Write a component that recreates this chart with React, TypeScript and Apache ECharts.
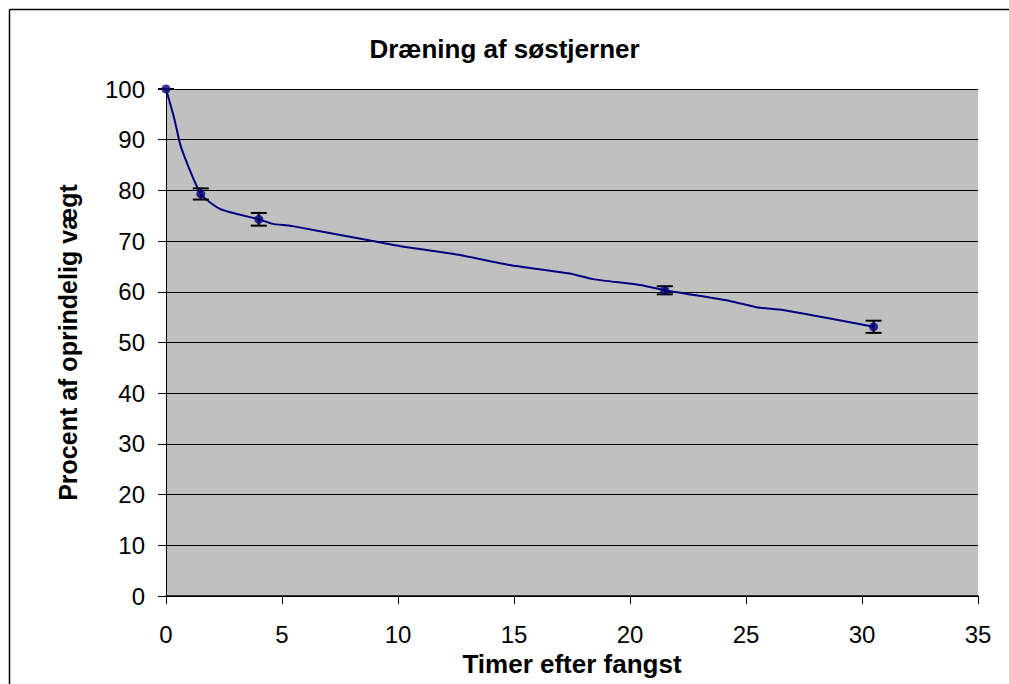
import React, { useEffect, useRef } from "react";
import * as echarts from "echarts";

// Measured points
const times = [0, 1.5, 4, 21.5, 30.5];
const percent = [100, 79.3, 74.3, 60.3, 53.1];
const errors = [0, 1.1, 1.25, 0.8, 1.2];

// Connecting curve
const curveX = [0, 0.35, 0.65, 1.5, 2.3, 3.1, 4, 4.6, 5.4, 8.8, 10.1, 12.6, 14.8, 17.4, 18.4, 20.5, 21.5, 24.3, 25.5, 26.6, 30.5];
const curveY = [100, 94.3, 88.5, 79.3, 76.4, 75.3, 74.3, 73.4, 73.0, 70.1, 69.0, 67.3, 65.3, 63.6, 62.5, 61.3, 60.3, 58.2, 56.9, 56.4, 53.1];

const xTicks = { min: 0, max: 35, interval: 5 };
const yTicks = { min: 0, max: 100, interval: 10 };

const FONT = "'Liberation Sans', Arial, sans-serif";

export default function App() {
  const ref = useRef<HTMLDivElement>(null);
  useEffect(() => {
    if (!ref.current) return;
    const chart = echarts.init(ref.current, undefined, { renderer: "svg" });
    const curve = curveX.map((x, i) => [x, curveY[i]]);
    const pts = times.map((t, i) => [t, percent[i]]);
    const errs = times.map((t, i) => [t, percent[i], errors[i]]);
    chart.setOption({
      animation: false,
      backgroundColor: "#ffffff",
      textStyle: { fontFamily: FONT },
      title: {
        text: "Dræning af søstjerner",
        left: "center",
        top: 31,
        textStyle: { fontFamily: FONT, fontSize: 26, fontWeight: "bold", color: "#000" },
      },
      graphic: [
        {
          type: "line",
          shape: { x1: 9.5, y1: 9.5, x2: 1009, y2: 9.5 },
          style: { stroke: "#000", lineWidth: 1.5 },
          silent: true,
          z: 100,
        },
        {
          type: "line",
          shape: { x1: 9.5, y1: 9.5, x2: 9.5, y2: 684 },
          style: { stroke: "#000", lineWidth: 1.5 },
          silent: true,
          z: 100,
        },
      ],
      grid: {
        left: 166,
        right: 31,
        top: 89,
        bottom: 88,
        show: true,
        backgroundColor: "#C0C0C0",
        borderWidth: 0,
        containLabel: false,
        outerBoundsMode: "none",
      },
      xAxis: {
        type: "value",
        min: xTicks.min,
        max: xTicks.max,
        interval: xTicks.interval,
        name: "Timer efter fangst",
        nameLocation: "middle",
        nameGap: 54,
        nameTextStyle: { fontFamily: FONT, fontSize: 26, fontWeight: "bold", color: "#000" },
        axisLine: { show: true, onZero: false, lineStyle: { color: "#000", width: 1.5 } },
        axisTick: { show: true, length: 8, lineStyle: { color: "#000", width: 1 } },
        axisLabel: { fontFamily: FONT, fontSize: 24, color: "#000", margin: 26 },
        splitLine: { show: false },
      },
      yAxis: {
        type: "value",
        min: yTicks.min,
        max: yTicks.max,
        interval: yTicks.interval,
        name: "Procent af oprindelig vægt",
        nameLocation: "middle",
        nameGap: 86,
        nameTextStyle: { fontFamily: FONT, fontSize: 25, fontWeight: "bold", color: "#000" },
        axisLine: { show: true, lineStyle: { color: "#000", width: 1 } },
        axisTick: { show: true, length: 8, lineStyle: { color: "#000", width: 1 } },
        axisLabel: { fontFamily: FONT, fontSize: 24, color: "#000", margin: 21 },
        splitLine: { show: true, lineStyle: { color: "#000", width: 1 } },
      },
      series: [
        {
          type: "line",
          data: curve,
          showSymbol: false,
          smooth: 0.2,
          lineStyle: { color: "#000080", width: 2 },
          z: 3,
        },
        {
          type: "custom",
          data: errs,
          renderItem: (params: any, api: any) => {
            const x = api.value(0);
            const y = api.value(1);
            const e = api.value(2);
            const top = api.coord([x, y + e]);
            const bot = api.coord([x, y - e]);
            const hw = 8;
            const style = { stroke: "#000", lineWidth: 2 };
            return {
              type: "group",
              children: [
                { type: "line", shape: { x1: top[0], y1: top[1], x2: bot[0], y2: bot[1] }, style },
                { type: "line", shape: { x1: top[0] - hw, y1: top[1], x2: top[0] + hw, y2: top[1] }, style },
                { type: "line", shape: { x1: bot[0] - hw, y1: bot[1], x2: bot[0] + hw, y2: bot[1] }, style },
              ],
            };
          },
          z: 4,
        },
        {
          type: "scatter",
          data: pts,
          symbol: "circle",
          symbolSize: 9,
          itemStyle: { color: "#000080" },
          z: 5,
        },
      ],
    });
    return () => chart.dispose();
  }, []);
  return (
    <div
      ref={ref}
      style={{ position: "absolute", left: 0, top: 0, width: 1009, height: 684, overflow: "hidden" }}
    />
  );
}
